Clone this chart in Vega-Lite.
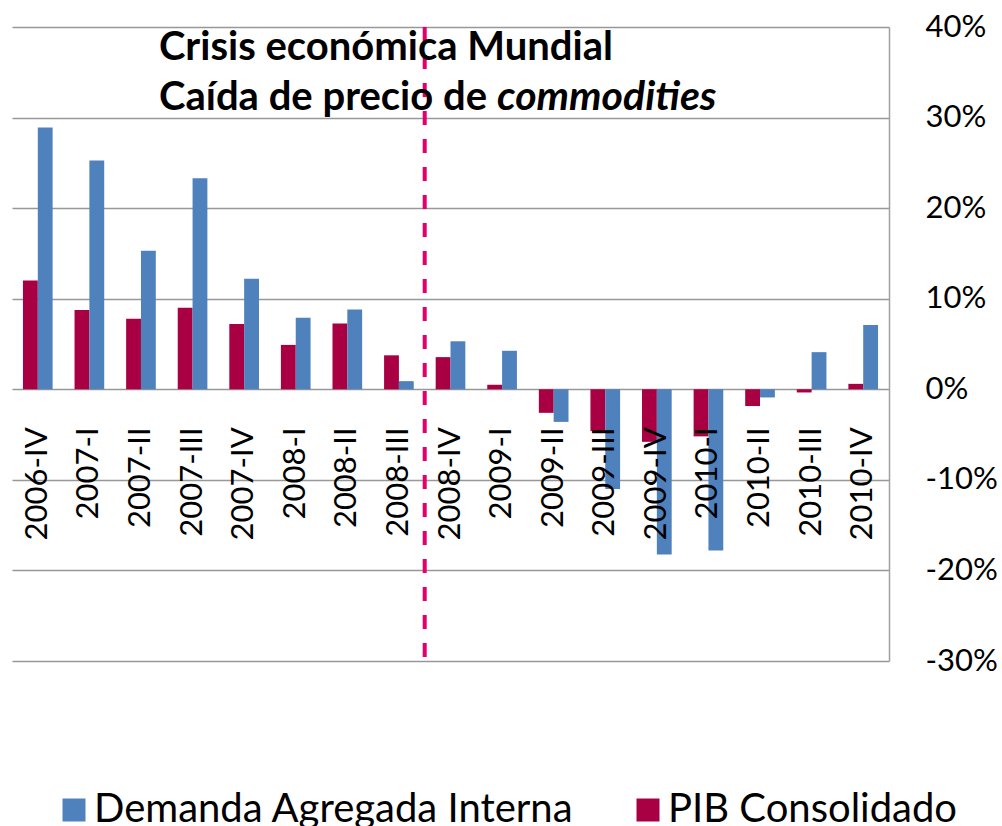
{
  "$schema": "https://vega.github.io/schema/vega-lite/v6.json",
  "width": 877,
  "height": 634,
  "autosize": {"type": "none"},
  "padding": {"left": 12, "top": 27, "right": 113, "bottom": 165},
  "background": "white",
  "config": {
    "font": "Lato",
    "view": {"stroke": null}
  },
  "datasets": {
    "series": [
      {"trimestre": "2006-IV", "serie": "PIB Consolidado", "valor": 12.0},
      {"trimestre": "2006-IV", "serie": "Demanda Agregada Interna", "valor": 28.9},
      {"trimestre": "2007-I", "serie": "PIB Consolidado", "valor": 8.75},
      {"trimestre": "2007-I", "serie": "Demanda Agregada Interna", "valor": 25.25},
      {"trimestre": "2007-II", "serie": "PIB Consolidado", "valor": 7.8},
      {"trimestre": "2007-II", "serie": "Demanda Agregada Interna", "valor": 15.3},
      {"trimestre": "2007-III", "serie": "PIB Consolidado", "valor": 9.0},
      {"trimestre": "2007-III", "serie": "Demanda Agregada Interna", "valor": 23.3},
      {"trimestre": "2007-IV", "serie": "PIB Consolidado", "valor": 7.2},
      {"trimestre": "2007-IV", "serie": "Demanda Agregada Interna", "valor": 12.2},
      {"trimestre": "2008-I", "serie": "PIB Consolidado", "valor": 4.9},
      {"trimestre": "2008-I", "serie": "Demanda Agregada Interna", "valor": 7.9},
      {"trimestre": "2008-II", "serie": "PIB Consolidado", "valor": 7.25},
      {"trimestre": "2008-II", "serie": "Demanda Agregada Interna", "valor": 8.8},
      {"trimestre": "2008-III", "serie": "PIB Consolidado", "valor": 3.75},
      {"trimestre": "2008-III", "serie": "Demanda Agregada Interna", "valor": 0.9},
      {"trimestre": "2008-IV", "serie": "PIB Consolidado", "valor": 3.55},
      {"trimestre": "2008-IV", "serie": "Demanda Agregada Interna", "valor": 5.3},
      {"trimestre": "2009-I", "serie": "PIB Consolidado", "valor": 0.5},
      {"trimestre": "2009-I", "serie": "Demanda Agregada Interna", "valor": 4.25},
      {"trimestre": "2009-II", "serie": "PIB Consolidado", "valor": -2.6},
      {"trimestre": "2009-II", "serie": "Demanda Agregada Interna", "valor": -3.6},
      {"trimestre": "2009-III", "serie": "PIB Consolidado", "valor": -4.6},
      {"trimestre": "2009-III", "serie": "Demanda Agregada Interna", "valor": -11.0},
      {"trimestre": "2009-IV", "serie": "PIB Consolidado", "valor": -5.8},
      {"trimestre": "2009-IV", "serie": "Demanda Agregada Interna", "valor": -18.25},
      {"trimestre": "2010-I", "serie": "PIB Consolidado", "valor": -5.2},
      {"trimestre": "2010-I", "serie": "Demanda Agregada Interna", "valor": -17.8},
      {"trimestre": "2010-II", "serie": "PIB Consolidado", "valor": -1.85},
      {"trimestre": "2010-II", "serie": "Demanda Agregada Interna", "valor": -0.9},
      {"trimestre": "2010-III", "serie": "PIB Consolidado", "valor": -0.35},
      {"trimestre": "2010-III", "serie": "Demanda Agregada Interna", "valor": 4.1},
      {"trimestre": "2010-IV", "serie": "PIB Consolidado", "valor": 0.6},
      {"trimestre": "2010-IV", "serie": "Demanda Agregada Interna", "valor": 7.1}
    ]
  },
  "data": {"name": "series"},
  "layer": [
    {
      "mark": {"type": "bar"},
      "encoding": {
        "x": {
          "field": "trimestre",
          "type": "nominal",
          "scale": {
            "domain": ["2006-IV","2007-I","2007-II","2007-III","2007-IV","2008-I","2008-II","2008-III","2008-IV","2009-I","2009-II","2009-III","2009-IV","2010-I","2010-II","2010-III","2010-IV"],
            "paddingInner": 0.425,
            "paddingOuter": 0.2125
          },
          "axis": null
        },
        "xOffset": {
          "field": "serie",
          "type": "nominal",
          "scale": {"domain": ["PIB Consolidado", "Demanda Agregada Interna"], "paddingInner": 0, "paddingOuter": 0}
        },
        "y": {
          "field": "valor",
          "type": "quantitative",
          "scale": {"domain": [-30, 40], "nice": false, "zero": false},
          "axis": {
            "orient": "right",
            "title": null,
            "values": [-30, -20, -10, 0, 10, 20, 30, 40],
            "labelExpr": "datum.value + '%'",
            "grid": true,
            "gridColor": "#989898",
            "gridWidth": 1.5,
            "domain": true,
            "domainColor": "#a0a0a0",
            "domainWidth": 1.5,
            "ticks": false,
            "labelPadding": 36,
            "labelAlign": "left",
            "labelBaseline": "middle",
            "labelFont": "Lato",
            "labelFontSize": 31,
            "labelColor": "#000000"
          }
        },
        "color": {
          "field": "serie",
          "type": "nominal",
          "scale": {"domain": ["Demanda Agregada Interna", "PIB Consolidado"], "range": ["#4F81BD", "#A80042"]},
          "legend": {
            "title": null,
            "orient": "none",
            "direction": "horizontal",
            "legendX": 42,
            "legendY": 763,
            "symbolType": "square",
            "symbolSize": 529,
            "symbolStrokeWidth": 0,
            "labelFont": "Lato",
            "labelFontSize": 40,
            "labelColor": "#000000",
            "labelOffset": 0,
            "columnPadding": 54,
            "labelLimit": 600,
            "padding": 0
          }
        }
      }
    },
    {
      "transform": [{"filter": "datum.serie === 'PIB Consolidado'"}],
      "mark": {"type": "text", "angle": 270, "align": "right", "baseline": "middle", "dx": -38, "font": "Lato", "fontSize": 31, "color": "#000000"},
      "encoding": {
        "x": {"field": "trimestre", "type": "nominal"},
        "y": {"datum": 0, "type": "quantitative"},
        "text": {"field": "trimestre", "type": "nominal"}
      }
    },
    {
      "data": {"values": [{"evento": "Crisis"}]},
      "mark": {"type": "rule", "color": "#E4006A", "strokeWidth": 4, "strokeDash": [14, 14]},
      "encoding": {
        "x": {"datum": "2008-IV", "bandPosition": -0.3696},
        "y": {"datum": 40, "type": "quantitative"},
        "y2": {"datum": -30}
      }
    },
    {
      "data": {"values": [{"texto": "Crisis económica Mundial"}]},
      "mark": {"type": "text", "align": "left", "baseline": "alphabetic", "dx": 18, "font": "Lato", "fontSize": 40, "fontWeight": "bold", "color": "#000000"},
      "encoding": {
        "x": {"datum": "2007-II"},
        "y": {"datum": 36.36, "type": "quantitative"},
        "text": {"field": "texto", "type": "nominal"}
      }
    },
    {
      "data": {"values": [{"texto": "Caída de precio de"}]},
      "mark": {"type": "text", "align": "left", "baseline": "alphabetic", "dx": 18, "font": "Lato", "fontSize": 40, "fontWeight": "bold", "color": "#000000"},
      "encoding": {
        "x": {"datum": "2007-II"},
        "y": {"datum": 30.84, "type": "quantitative"},
        "text": {"field": "texto", "type": "nominal"}
      }
    },
    {
      "data": {"values": [{"texto": "commodities"}]},
      "mark": {"type": "text", "align": "left", "baseline": "alphabetic", "dx": 356, "font": "Lato", "fontSize": 41, "fontWeight": "bold", "fontStyle": "italic", "color": "#000000"},
      "encoding": {
        "x": {"datum": "2007-II"},
        "y": {"datum": 30.84, "type": "quantitative"},
        "text": {"field": "texto", "type": "nominal"}
      }
    }
  ]
}
